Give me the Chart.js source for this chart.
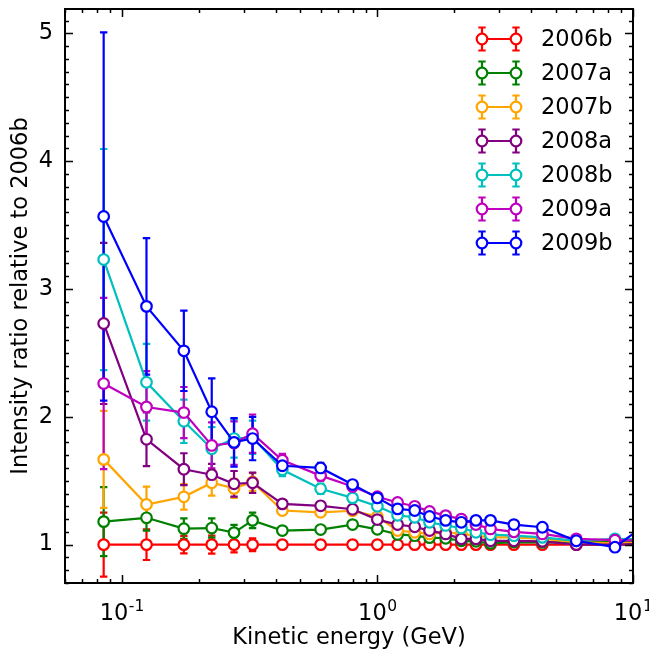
<!DOCTYPE html>
<html>
<head>
<meta charset="utf-8">
<script src="https://cdn.jsdelivr.net/npm/chart.js@4.4.1/dist/chart.umd.min.js"></script>
<style>
  html, body { margin: 0; padding: 0; background: #ffffff; }
  #wrap { width: 649px; height: 656px; }
</style>
</head>
<body>
<div id="wrap"><canvas id="chart" width="649" height="656"></canvas></div>
<script>
// Kinetic energy bin centres (GeV)
const energies = [0.085, 0.125, 0.175, 0.225, 0.275, 0.325, 0.425, 0.6, 0.8, 1.0, 1.2,
                  1.4, 1.6, 1.85, 2.13, 2.43, 2.77, 3.42, 4.42, 6.0, 8.5, 12.0];

const seriesNames  = ['2006b', '2007a', '2007b', '2008a', '2008b', '2009a', '2009b'];
const seriesColors = ['#ff0000', '#008000', '#ffa500', '#800080', '#00bfbf', '#bf00bf', '#0000ff'];

// Intensity ratios relative to 2006b, with symmetric uncertainties
const ratio2006b = [1.0, 1.0, 1.0, 1.0, 1.0, 1.0, 1.0, 1.0, 1.0, 1.0, 1.0,
                    1.0, 1.0, 1.0, 1.0, 1.0, 1.0, 1.0, 1.0, 1.0, 1.0, 1.0];
const err2006b   = [0.25, 0.12, 0.068, 0.07, 0.06, 0.05, 0.02, 0.02, 0.02, 0.015, 0.015,
                    0.015, 0.015, 0.015, 0.015, 0.015, 0.015, 0.015, 0.015, 0.02, 0.03, 0.04];

const ratio2007a = [1.18, 1.21, 1.125, 1.13, 1.094, 1.19, 1.11, 1.118, 1.157, 1.12, 1.08,
                    1.07, 1.055, 1.05, 1.03, 1.026, 1.01, 1.02, 1.018, 1.02, 1.02, 1.03];
const err2007a   = [0.27, 0.1, 0.08, 0.075, 0.06, 0.06, 0.03, 0.025, 0.02, 0.02, 0.02,
                    0.02, 0.02, 0.02, 0.02, 0.02, 0.02, 0.02, 0.02, 0.025, 0.03, 0.04];

const ratio2007b = [1.667, 1.314, 1.374, 1.484, 1.44, 1.49, 1.267, 1.253, 1.265, 1.22, 1.11,
                    1.097, 1.084, 1.097, 1.084, 1.07, 1.057, 1.057, 1.045, 1.02, 1.01, 1.02];
const err2007b   = [0.38, 0.14, 0.1, 0.1, 0.074, 0.07, 0.03, 0.025, 0.02, 0.02, 0.02,
                    0.02, 0.02, 0.02, 0.02, 0.02, 0.02, 0.02, 0.02, 0.025, 0.03, 0.04];

const ratio2008a = [2.73, 1.824, 1.59, 1.547, 1.476, 1.484, 1.319, 1.304, 1.277, 1.196, 1.157,
                    1.14, 1.11, 1.084, 1.045, 1.045, 1.03, 1.03, 1.026, 1.0, 1.0, 1.01];
const err2008a   = [0.63, 0.21, 0.125, 0.085, 0.1, 0.08, 0.03, 0.03, 0.025, 0.02, 0.02,
                    0.02, 0.02, 0.02, 0.02, 0.02, 0.02, 0.02, 0.02, 0.025, 0.03, 0.04];

const ratio2008b = [3.23, 2.27, 1.965, 1.75, 1.83, 1.84, 1.586, 1.437, 1.366, 1.3, 1.23,
                    1.214, 1.175, 1.15, 1.13, 1.097, 1.078, 1.07, 1.057, 1.03, 1.045, 1.04];
const err2008b   = [0.865, 0.30, 0.17, 0.17, 0.15, 0.13, 0.05, 0.04, 0.03, 0.025, 0.02,
                    0.02, 0.02, 0.02, 0.02, 0.02, 0.02, 0.02, 0.02, 0.025, 0.03, 0.04];

const ratio2009a = [2.26, 2.077, 2.033, 1.776, 1.795, 1.868, 1.66, 1.54, 1.455, 1.375, 1.33,
                    1.30, 1.26, 1.227, 1.20, 1.157, 1.123, 1.10, 1.084, 1.045, 1.035, 1.03];
const err2009a   = [0.67, 0.28, 0.2, 0.18, 0.17, 0.15, 0.05, 0.04, 0.03, 0.025, 0.02,
                    0.02, 0.02, 0.02, 0.02, 0.02, 0.02, 0.02, 0.02, 0.025, 0.03, 0.04];

const ratio2009b = [3.567, 2.864, 2.516, 2.04, 1.80, 1.83, 1.617, 1.60, 1.47, 1.366, 1.28,
                    1.267, 1.22, 1.19, 1.175, 1.19, 1.19, 1.157, 1.136, 1.03, 0.98, 1.2];
const err2009b   = [1.44, 0.534, 0.314, 0.26, 0.19, 0.17, 0.06, 0.04, 0.03, 0.025, 0.02,
                    0.02, 0.02, 0.02, 0.02, 0.02, 0.02, 0.02, 0.02, 0.025, 0.03, 0.04];

const seriesValues = [ratio2006b, ratio2007a, ratio2007b, ratio2008a, ratio2008b, ratio2009a, ratio2009b];
const seriesErrors = [err2006b, err2007a, err2007b, err2008a, err2008b, err2009a, err2009b];

// Axis ticks: major values and the exponents written under the log axis
const yMajorTicks = [1, 2, 3, 4, 5];
const xMajorTicks = [0.1, 1, 10];
const xTickExponents = ['-1', '0', '1'];

const FONT = 'DejaVu Sans';
const FONT_SIZE = 22.5;
const LINE_W = 2.2;

const datasets = seriesNames.map((name, i) => ({
  label: name,
  data: energies.map((e, k) => ({ x: e, y: seriesValues[i][k] })),
  errors: seriesErrors[i],
  borderColor: seriesColors[i],
  backgroundColor: seriesColors[i],
  borderWidth: LINE_W,
  pointRadius: 5.3,
  pointBorderWidth: LINE_W,
  pointBackgroundColor: '#ffffff',
  pointBorderColor: seriesColors[i],
  pointHoverRadius: 5.3,
  tension: 0,
  order: seriesNames.length - i
}));

// Vertical error bars with caps, drawn underneath every line and marker
const errorBarPlugin = {
  id: 'errorBars',
  beforeDatasetsDraw(chart) {
    const ctx = chart.ctx;
    const xs = chart.scales.x, ys = chart.scales.y;
    const area = chart.chartArea;
    ctx.save();
    ctx.beginPath();
    ctx.rect(area.left, area.top, area.right - area.left, area.bottom - area.top);
    ctx.clip();
    chart.data.datasets.forEach((ds) => {
      ctx.strokeStyle = ds.borderColor;
      ctx.lineWidth = LINE_W;
      ds.data.forEach((p, k) => {
        const err = ds.errors[k];
        const px = xs.getPixelForValue(p.x);
        const yTop = ys.getPixelForValue(p.y + err);
        const yBot = ys.getPixelForValue(p.y - err);
        ctx.beginPath();
        ctx.moveTo(px, yTop); ctx.lineTo(px, yBot);
        ctx.moveTo(px - 3.7, yTop); ctx.lineTo(px + 3.7, yTop);
        ctx.moveTo(px - 3.7, yBot); ctx.lineTo(px + 3.7, yBot);
        ctx.stroke();
      });
    });
    ctx.restore();
  }
};

// Axes box with inward major and minor ticks on all four sides, and the
// power-of-ten labels of the energy axis
const framePlugin = {
  id: 'frame',
  afterDraw(chart) {
    const ctx = chart.ctx;
    const xs = chart.scales.x, ys = chart.scales.y;
    const { left, right, top, bottom } = chart.chartArea;
    ctx.save();
    ctx.strokeStyle = '#000000';
    ctx.lineWidth = 1.5;
    const major = 8, minor = 4;

    const xMinor = [];
    for (let d = -2; d <= 0; d++) {
      for (let m = 2; m <= 9; m++) {
        const v = m * Math.pow(10, d);
        if (v >= xs.min && v <= xs.max) xMinor.push(v);
      }
    }
    const yMinor = [];
    for (let k = 7; k <= 52; k++) {
      const v = k / 10;
      if (k % 10 !== 0 && v >= ys.min && v <= ys.max) yMinor.push(v);
    }

    ctx.beginPath();
    xMajorTicks.forEach(v => {
      const px = Math.round(xs.getPixelForValue(v)) + 0.5;
      ctx.moveTo(px, bottom); ctx.lineTo(px, bottom - major);
      ctx.moveTo(px, top); ctx.lineTo(px, top + major);
    });
    xMinor.forEach(v => {
      const px = Math.round(xs.getPixelForValue(v)) + 0.5;
      ctx.moveTo(px, bottom); ctx.lineTo(px, bottom - minor);
      ctx.moveTo(px, top); ctx.lineTo(px, top + minor);
    });
    yMajorTicks.forEach(v => {
      const py = Math.round(ys.getPixelForValue(v)) + 0.5;
      ctx.moveTo(left, py); ctx.lineTo(left + major, py);
      ctx.moveTo(right, py); ctx.lineTo(right - major, py);
    });
    yMinor.forEach(v => {
      const py = Math.round(ys.getPixelForValue(v)) + 0.5;
      ctx.moveTo(left, py); ctx.lineTo(left + minor, py);
      ctx.moveTo(right, py); ctx.lineTo(right - minor, py);
    });
    ctx.stroke();

    ctx.lineWidth = 2;
    ctx.strokeRect(left, top, right - left, bottom - top);

    // 10^n labels with raised exponents
    ctx.fillStyle = '#000000';
    ctx.textBaseline = 'alphabetic';
    ctx.textAlign = 'left';
    const baseFont = FONT_SIZE + 'px "' + FONT + '"';
    const expFont = '15.5px "' + FONT + '"';
    xMajorTicks.forEach((v, i) => {
      const px = xs.getPixelForValue(v);
      ctx.font = baseFont;
      const wBase = ctx.measureText('10').width;
      ctx.font = expFont;
      const wExp = ctx.measureText(xTickExponents[i]).width;
      const x0 = px - (wBase + wExp) / 2;
      const baseY = bottom + 37;
      ctx.font = baseFont;
      ctx.fillText('10', x0, baseY);
      ctx.font = expFont;
      ctx.fillText(xTickExponents[i], x0 + wBase + 0.5, baseY - 9.5);
    });
    ctx.restore();
  }
};

// Legend: error-bar symbol (two markers joined by a line) and series name
const legendPlugin = {
  id: 'seriesLegend',
  afterDraw(chart) {
    const ctx = chart.ctx;
    const x0 = 482, x1 = 516, textX = 541, rowTop = 39, rowStep = 34, capHalf = 11.5;
    ctx.save();
    ctx.font = FONT_SIZE + 'px "' + FONT + '"';
    ctx.textBaseline = 'middle';
    ctx.textAlign = 'left';
    chart.data.datasets.forEach((ds, i) => {
      const y = rowTop + i * rowStep;
      const c = ds.borderColor;
      ctx.strokeStyle = c;
      ctx.lineWidth = LINE_W;
      ctx.beginPath();
      [x0, x1].forEach(x => {
        ctx.moveTo(x, y - capHalf); ctx.lineTo(x, y + capHalf);
        ctx.moveTo(x - 3.7, y - capHalf); ctx.lineTo(x + 3.7, y - capHalf);
        ctx.moveTo(x - 3.7, y + capHalf); ctx.lineTo(x + 3.7, y + capHalf);
      });
      ctx.moveTo(x0, y); ctx.lineTo(x1, y);
      ctx.stroke();
      [x0, x1].forEach(x => {
        ctx.beginPath();
        ctx.arc(x, y, 5.3, 0, Math.PI * 2);
        ctx.fillStyle = '#ffffff';
        ctx.fill();
        ctx.stroke();
      });
      ctx.fillStyle = '#000000';
      ctx.fillText(ds.label, textX, y + 1);
    });
    ctx.restore();
  }
};

new Chart(document.getElementById('chart'), {
  type: 'line',
  data: { datasets },
  plugins: [errorBarPlugin, framePlugin, legendPlugin],
  options: {
    responsive: false,
    animation: false,
    devicePixelRatio: 1,
    layout: { padding: { left: 0, right: 16, top: 9, bottom: 0 } },
    plugins: { legend: { display: false }, tooltip: { enabled: false } },
    scales: {
      x: {
        type: 'logarithmic',
        position: 'bottom',
        min: 0.06,
        max: 10,
        grid: { display: false, drawTicks: false },
        border: { display: false },
        afterBuildTicks: (s) => { s.ticks = xMajorTicks.map(v => ({ value: v })); },
        ticks: {
          autoSkip: false,
          maxRotation: 0,
          minRotation: 0,
          padding: 12,
          color: '#000000',
          font: { family: FONT, size: FONT_SIZE },
          callback: () => ''
        },
        title: {
          display: true,
          text: 'Kinetic energy (GeV)',
          color: '#000000',
          font: { family: FONT, size: FONT_SIZE, lineHeight: 1.2 },
          padding: { top: 0, bottom: 4 }
        },
        afterFit: (s) => {
          s.height = 73;
          s.paddingLeft = 0; s.paddingRight = 0;
        }
      },
      y: {
        type: 'linear',
        min: 0.7,
        max: 5.19,
        grid: { display: false, drawTicks: false },
        border: { display: false },
        afterBuildTicks: (s) => { s.ticks = yMajorTicks.map(v => ({ value: v })); },
        ticks: {
          padding: 12,
          color: '#000000',
          font: { family: FONT, size: FONT_SIZE },
          callback: (v) => String(v)
        },
        title: {
          display: true,
          text: 'Intensity ratio relative to 2006b',
          color: '#000000',
          font: { family: FONT, size: FONT_SIZE, lineHeight: 1.2 },
          padding: { top: 8, bottom: 0 }
        },
        afterFit: (s) => {
          s.width = 65;
          s.paddingTop = 0; s.paddingBottom = 0;
        }
      }
    }
  }
});
</script>
</body>
</html>
